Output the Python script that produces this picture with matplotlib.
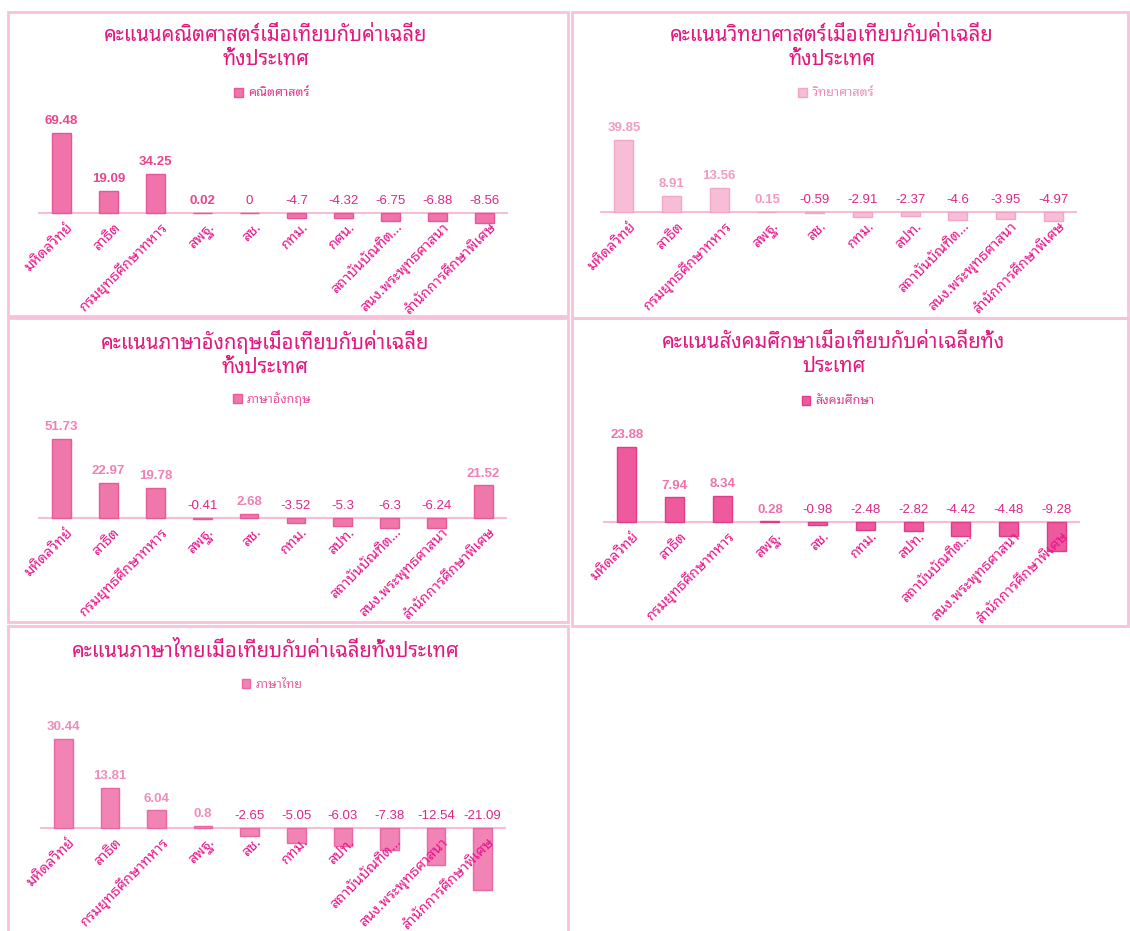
import matplotlib
matplotlib.use("Agg")
import matplotlib.pyplot as plt
from matplotlib import font_manager
from matplotlib.patches import Rectangle
from fontTools.ttLib import TTFont

# data
categories = ["มหิดลวิทย์", "สาธิต", "กรมยุทธศึกษาทหาร", "สพฐ.", "สช.", "กทม.", "สปท.",
              "สถาบันบัณฑิต...", "สนง.พระพุทธศาสนา", "สำนักการศึกษาพิเศษ"]
math_categories = ["มหิดลวิทย์", "สาธิต", "กรมยุทธศึกษาทหาร", "สพฐ.", "สช.", "กทม.", "กศน.",
                   "สถาบันบัณฑิต...", "สนง.พระพุทธศาสนา", "สำนักการศึกษาพิเศษ"]

math = [69.48, 19.09, 34.25, 0.02, 0, -4.7, -4.32, -6.75, -6.88, -8.56]
science = [39.85, 8.91, 13.56, 0.15, -0.59, -2.91, -2.37, -4.6, -3.95, -4.97]
english = [51.73, 22.97, 19.78, -0.41, 2.68, -3.52, -5.3, -6.3, -6.24, 21.52]
social = [23.88, 7.94, 8.34, 0.28, -0.98, -2.48, -2.82, -4.42, -4.48, -9.28]
thai = [30.44, 13.81, 6.04, 0.8, -2.65, -5.05, -6.03, -7.38, -12.54, -21.09]

titles = ["คะแนนคณิตศาสตร์เมื่อเทียบกับค่าเฉลี่ย\nทั้งประเทศ",
          "คะแนนวิทยาศาสตร์เมื่อเทียบกับค่าเฉลี่ย\nทั้งประเทศ",
          "คะแนนภาษาอังกฤษเมื่อเทียบกับค่าเฉลี่ย\nทั้งประเทศ",
          "คะแนนสังคมศึกษาเมื่อเทียบกับค่าเฉลี่ยทั้ง\nประเทศ",
          "คะแนนภาษาไทยเมื่อเทียบกับค่าเฉลี่ยทั้งประเทศ"]
series_names = ["คณิตศาสตร์", "วิทยาศาสตร์", "ภาษาอังกฤษ", "สังคมศึกษา", "ภาษาไทย"]


# find some font that has thai glyphs, looped style preferred
def find_thai_font():
    found = []
    for f in font_manager.fontManager.ttflist:
        try:
            tt = TTFont(f.fname, fontNumber=0, lazy=True)
            cmap = tt.getBestCmap()
            if cmap and 0x0E01 in cmap:
                found.append(f.name)
        except Exception:
            pass
    for pref in ["Noto Sans Thai Looped", "Loma", "Garuda", "Tlwg Typo", "Leelawadee UI",
                 "Tahoma", "Noto Sans Thai", "Noto Sans Thai UI", "Sarabun"]:
        if pref in found:
            return pref
    if found:
        return found[0]
    return "DejaVu Sans"


thai_font = find_thai_font()
plt.rcParams['font.family'] = [thai_font, 'DejaVu Sans']
num_font = ['Liberation Sans', 'DejaVu Sans']

W, H = 1130, 931
fig = plt.figure(figsize=(W / 100, H / 100), dpi=100)

title_col = '#E0187F'
cat_col = '#E8168C'
neg_col = '#DC2786'
border_col = '#F6C3DA'

# one entry per panel: border box, axis row, left/right of the category band,
# top of the tallest bar, title centre, legend centre, colours
panels = [
    dict(vals=math, cats=math_categories, box=(8, 12, 560, 304), axis=213, x0=38, x1=508, top=133,
         tx=266, ty=48, lx=272, ly=93, face='#F073AA', edge='#E8559A', lab='#E8458F', leg='#E2398A'),
    dict(vals=science, cats=categories, box=(572, 12, 556, 306), axis=212, x0=600, x1=1077, top=140,
         tx=832, ty=48, lx=836, ly=93, face='#F7BDD6', edge='#F2A6C8', lab='#F29AC2', leg='#EE8CBA'),
    dict(vals=english, cats=categories, box=(8, 318, 560, 304), axis=518, x0=38, x1=507, top=439,
         tx=265, ty=354, lx=272, ly=399, face='#F077A9', edge='#E85A98', lab='#F080B4', leg='#E8559C'),
    dict(vals=social, cats=categories, box=(572, 318, 556, 308), axis=522, x0=603, x1=1080, top=447,
         tx=834, ty=355, lx=838, ly=401, face='#EE5A9E', edge='#E03C87', lab='#EE72AC', leg='#E03C8C'),
    dict(vals=thai, cats=categories, box=(8, 626, 560, 310), axis=828, x0=40, x1=506, top=739,
         tx=266, ty=652, lx=272, ly=684, face='#F283B5', edge='#EA67A2', lab='#F08CBA', leg='#E8619F'),
]

for p, title, name in zip(panels, titles, series_names):
    bx, by, bw, bh = p['box']
    fig.patches.append(Rectangle((bx / W, 1 - (by + bh) / H), bw / W, bh / H,
                                 transform=fig.transFigure, fill=False,
                                 edgecolor=border_col, linewidth=2))

    vals = p['vals']
    scale = (p['axis'] - p['top']) / max(vals)
    above = p['axis'] - p['top'] + 30
    below = 90
    ax = fig.add_axes([p['x0'] / W, 1 - (p['axis'] + below) / H,
                       (p['x1'] - p['x0']) / W, (above + below) / H])
    ax.set_xlim(-0.5, 9.5)
    ax.set_ylim(-below / scale, above / scale)
    ax.axis('off')

    x = list(range(len(vals)))
    bars = ax.bar(x, vals, width=0.4, color=p['face'], edgecolor=p['edge'], linewidth=1, zorder=2)
    ax.axhline(0, color='#F6BDD6', linewidth=1.5, zorder=1)

    for i, v in enumerate(vals):
        pos = v > 0
        ax.annotate(f"{v:g}", (i, max(v, 0)), xytext=(0, 4), textcoords='offset points',
                    ha='center', va='bottom', fontsize=9.5, family=num_font,
                    fontweight='bold' if pos else 'normal',
                    color=p['lab'] if pos else neg_col, annotation_clip=False)

    for i, c in enumerate(p['cats']):
        ax.annotate(c, (i, 0), xytext=(3, -5), textcoords='offset points',
                    ha='right', va='top', rotation=45, rotation_mode='anchor',
                    fontsize=10.5, color=cat_col, annotation_clip=False)

    fig.text(p['tx'] / W, 1 - p['ty'] / H, title, ha='center', va='center',
             fontsize=14.5, color=title_col, linespacing=1.3)

    ax.legend([bars], [name], loc='center', bbox_to_anchor=(p['lx'] / W, 1 - p['ly'] / H),
              bbox_transform=fig.transFigure, frameon=False, handlelength=0.7,
              handleheight=0.7, handletextpad=0.4, labelcolor=p['leg'],
              prop={'weight': 'bold', 'size': 9})

fig.savefig("out.png", dpi=100)
